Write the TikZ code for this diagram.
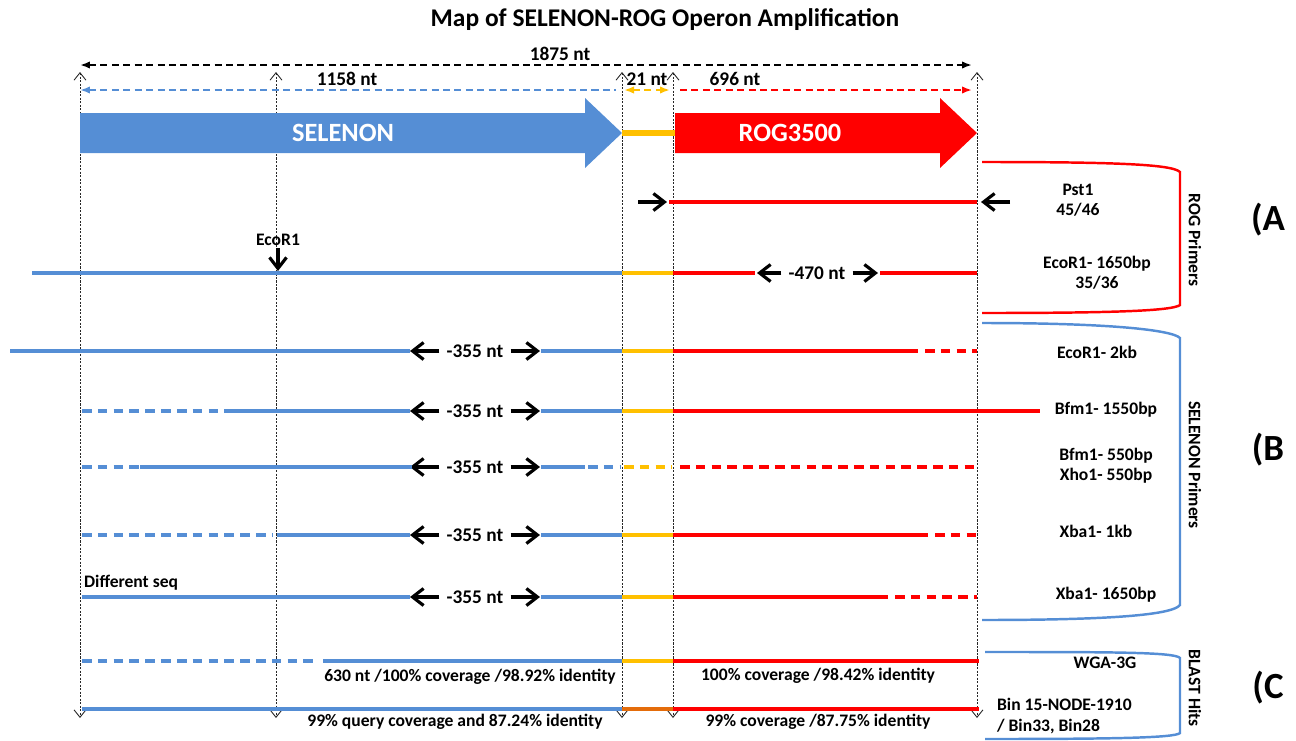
\documentclass[tikz,border=0pt]{standalone}
\usepackage{fontspec}
\setmainfont{Carlito}
\usetikzlibrary{arrows.meta,positioning}
\definecolor{selblue}{RGB}{85,142,213}
\definecolor{rogred}{RGB}{255,0,0}
\definecolor{spacer}{RGB}{255,192,0}
\definecolor{binorange}{RGB}{228,108,10}

\begin{document}
\begin{tikzpicture}[x=0.02cm, y=-0.02cm,
    lbl/.style={font=\fontsize{10}{11.5}\selectfont\bfseries, align=center, inner sep=1pt},
    dim/.style={font=\fontsize{11}{13}\selectfont\bfseries, inner sep=1pt},
    gene/.style={font=\fontsize{15}{17}\selectfont\bfseries, text=white},
    big/.style={font=\fontsize{21}{23}\selectfont\bfseries},
    seq/.style={line width=2pt, #1},
    dsh/.style={line width=2pt, #1, dash pattern=on 5.5pt off 3.5pt},
    span/.style={line width=1.4pt, #1, dash pattern=on 4pt off 2.5pt},
    guide/.style={black!85, line width=0.5pt, dash pattern=on 1.2pt off 0.8pt,
        {Straight Barb[length=1.5mm, width=2.4mm]}-{Straight Barb[length=1.5mm, width=2.4mm]}},
    primer/.style={-{Straight Barb[length=2.2mm, width=3.4mm]}, line width=1.8pt},
    brk/.style={line width=1.4pt, #1}
]
\useasboundingbox (0,0) rectangle (1296,741);

\node[font=\fontsize{14.5}{16}\selectfont\bfseries] (title) at (665,20) {Map of SELENON-ROG Operon Amplification};

% Guides
\foreach \gx in {80,276,622,673,977}
    \draw[guide] (\gx,72) -- (\gx,718);

% Lengths
\draw[span=black, {Latex[length=2mm]}-{Latex[length=2mm]}] (80,65) -- (972,65);
\node[dim] (ltot) at (560,54) {1875 nt};
\draw[span=selblue, {Latex[length=2mm]}-] (80,90) -- (616,90);
\node[dim] (lsel) at (347,79) {1158 nt};
\draw[span=spacer, {Latex[length=2mm]}-{Latex[length=2mm]}] (624,90) -- (670,90);
\node[dim] (lgap) at (647,79) {21 nt};
\draw[span=rogred, -{Latex[length=2mm]}] (680,90) -- (972,90);
\node[dim] (lrog) at (735,79) {696 nt};

% Genes
\fill[selblue] (80,113) -- (585,113) -- (585,98) -- (622,133) -- (585,168) -- (585,153) -- (80,153) -- cycle;
\node[gene] (selenon) at (343,133) {SELENON};
\draw[seq=spacer, line width=3.5pt] (622,133) -- (675,133);
\fill[rogred] (675,113) -- (940,113) -- (940,98) -- (977,133) -- (940,168) -- (940,153) -- (675,153) -- cycle;
\node[gene] (rog) at (790,133) {ROG3500};

% ROG primers
\draw[seq=rogred] (669,202) -- (977,202);
\draw[primer] (638,202) -- (667,202);
\draw[primer] (1010,202) -- (981,202);
\node[lbl] (pst) at (1078,200) {Pst1\\45/46};

\node[lbl] (eco) at (278,240) {EcoR1};
\draw[primer] (eco.south) -- (278,271);
\draw[seq=selblue] (32,273) -- (622,273);
\draw[seq=spacer] (622,273) -- (673,273);
\draw[seq=rogred] (673,273) -- (755,273);
\node[dim] (d470) at (817,273) {-470 nt};
\draw[primer] ([xshift=-3pt]d470.west) -- (757,273);
\draw[primer] ([xshift=3pt]d470.east) -- (878,273);
\draw[seq=rogred] (880,273) -- (977,273);
\node[lbl] (eco1650) at (1097,273) {EcoR1- 1650bp\\35/36};

% SELENON primers
\foreach \ry/\nm in {351/a,411/b,467/c,535/d,597/e} {
    \node[dim] (nt\nm) at (475,\ry) {-355 nt};
    \draw[primer] ([xshift=-3pt]nt\nm.west) -- (410,\ry);
    \draw[primer] ([xshift=3pt]nt\nm.east) -- (540,\ry);
}

\draw[seq=selblue] (10,351) -- (410,351);
\draw[seq=selblue] (541,351) -- (622,351);
\draw[seq=spacer] (622,351) -- (673,351);
\draw[seq=rogred] (673,351) -- (918,351);
\draw[dsh=rogred] (925,351) -- (977,351);
\node[lbl] (eco2) at (1097,352) {EcoR1- 2kb};

\draw[dsh=selblue] (82,411) -- (225,411);
\draw[seq=selblue] (225,411) -- (410,411);
\draw[seq=selblue] (541,411) -- (622,411);
\draw[seq=spacer] (622,411) -- (673,411);
\draw[seq=rogred] (673,411) -- (1040,411);
\node[lbl] (bfm1550) at (1106,410) {Bfm1- 1550bp};

\draw[dsh=selblue] (82,467) -- (140,467);
\draw[seq=selblue] (140,467) -- (412,467);
\draw[seq=selblue] (541,467) -- (585,467);
\draw[dsh=selblue] (588,467) -- (620,467);
\draw[dsh=spacer] (624,467) -- (672,467);
\draw[dsh=rogred] (680,467) -- (977,467);
\node[lbl] (bfm550) at (1106,466) {Bfm1- 550bp\\Xho1- 550bp};

\draw[dsh=selblue] (82,535) -- (272,535);
\draw[seq=selblue] (277,535) -- (410,535);
\draw[seq=selblue] (541,535) -- (622,535);
\draw[seq=spacer] (622,535) -- (673,535);
\draw[seq=rogred] (673,535) -- (928,535);
\draw[dsh=rogred] (935,535) -- (977,535);
\node[lbl] (xba1) at (1096,531) {Xba1- 1kb};

\draw[seq=selblue] (82,597) -- (410,597);
\node[lbl, anchor=south west] (diff) at (82,592) {Different seq};
\draw[seq=selblue] (541,597) -- (622,597);
\draw[seq=spacer] (622,597) -- (673,597);
\draw[seq=rogred] (673,597) -- (888,597);
\draw[dsh=rogred] (895,597) -- (977,597);
\node[lbl] (xba1650) at (1106,595) {Xba1- 1650bp};

% BLAST hits
\draw[dsh=selblue] (82,661) -- (315,661);
\draw[seq=selblue] (323,661) -- (622,661);
\draw[seq=spacer] (622,661) -- (673,661);
\draw[seq=rogred] (673,661) -- (979,661);
\node[lbl] (wsel) at (470,677) {630 nt /100\% coverage /98.92\% identity};
\node[lbl] (wrog) at (818,676) {100\% coverage /98.42\% identity};
\node[lbl] (wga) at (1105,663) {WGA-3G};

\draw[seq=selblue] (82,709) -- (622,709);
\draw[seq=binorange] (622,709) -- (673,709);
\draw[seq=rogred] (673,709) -- (979,709);
\node[lbl] (bsel) at (455,722) {99\% query coverage and 87.24\% identity};
\node[lbl] (brog) at (818,722) {99\% coverage /87.75\% identity};
\node[lbl, align=left, anchor=west] (bin) at (995,716) {Bin 15-NODE-1910\\/ Bin33, Bin28};

% Brackets
\draw[brk=rogred] (982,162) .. controls (1110,162) and (1172,164) .. (1180,172)
    -- (1180,305) .. controls (1172,311) and (1110,313) .. (982,313);
\node[lbl, rotate=-90] (rogp) at (1195,240) {ROG Primers};
\draw[brk=selblue] (982,323) .. controls (1110,323) and (1172,330) .. (1180,338)
    -- (1180,605) .. controls (1172,615) and (1110,620) .. (982,620);
\node[lbl, rotate=-90] (selp) at (1195,465) {SELENON Primers};
\draw[brk=selblue] (985,652) .. controls (1110,652) and (1175,652) .. (1180,658)
    -- (1180,733) .. controls (1175,738) and (1110,739) .. (985,739);
\node[lbl, rotate=-90] (blast) at (1195,688) {BLAST Hits};

\node[big] (pa) at (1268,220) {(A};
\node[big] (pb) at (1268,450) {(B};
\node[big] (pc) at (1268,688) {(C};
\end{tikzpicture}
\end{document}
